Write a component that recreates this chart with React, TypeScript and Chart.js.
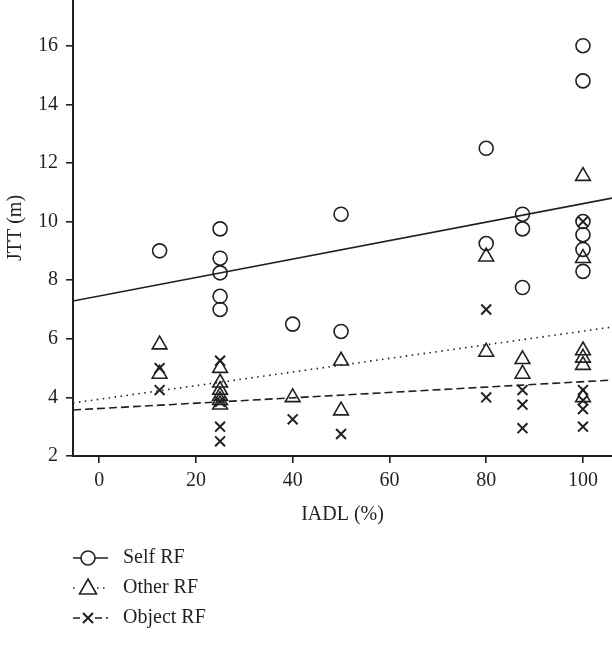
import React, { useEffect, useRef } from "react";
import { Chart, registerables } from "chart.js";

Chart.register(...registerables);

const INK = "#231f20";

const selfX = [12.5, 25, 25, 25, 25, 25, 40, 50, 50, 80, 80, 87.5, 87.5, 87.5, 100, 100, 100, 100, 100, 100];
const selfY = [9.0, 9.75, 8.75, 8.25, 7.45, 7.0, 6.5, 10.25, 6.25, 12.5, 9.25, 10.25, 9.75, 7.75, 16.0, 14.8, 10.0, 9.55, 9.05, 8.3];

const otherX = [12.5, 12.5, 25, 25, 25, 25, 25, 25, 40, 50, 50, 80, 80, 87.5, 87.5, 100, 100, 100, 100, 100, 100];
const otherY = [5.8, 4.8, 5.0, 4.5, 4.25, 4.05, 3.9, 3.75, 4.0, 5.25, 3.55, 8.8, 5.55, 5.3, 4.8, 11.55, 8.75, 5.6, 5.35, 5.1, 4.0];

const objectX = [12.5, 12.5, 25, 25, 25, 25, 40, 50, 80, 80, 87.5, 87.5, 87.5, 100, 100, 100, 100, 100];
const objectY = [5.0, 4.25, 5.25, 3.0, 2.5, 3.85, 3.25, 2.75, 7.0, 4.0, 4.25, 3.75, 2.95, 10.0, 4.25, 3.9, 3.6, 3.0];

// regression line end points (x at axis bounds)
const fitX = [-5.4, 106];
const selfFit = [7.29, 10.8];
const otherFit = [3.81, 6.4];
const objectFit = [3.57, 4.59];

const xTicks = [0, 20, 40, 60, 80, 100];
const yTicks = [2, 4, 6, 8, 10, 12, 14, 16];

const legendLabels = ["Self RF", "Other RF", "Object RF"];

const pts = (xs: number[], ys: number[]) => xs.map((x, i) => ({ x, y: ys[i] }));

const legendPlugin = {
  id: "customLegend",
  afterDraw(chart: any) {
    const ctx = chart.ctx;
    const rows = [
      { y: 558, dash: [] as number[], style: "circle" },
      { y: 588, dash: [1.5, 4.5], style: "triangle" },
      { y: 618, dash: [7, 4], style: "cross" },
    ];
    ctx.save();
    rows.forEach((r, i) => {
      ctx.strokeStyle = INK;
      ctx.lineWidth = 1.6;
      ctx.setLineDash(r.dash);
      ctx.beginPath();
      ctx.moveTo(73, r.y);
      ctx.lineTo(108, r.y);
      ctx.stroke();
      ctx.setLineDash([]);
      const cx = 88;
      ctx.beginPath();
      if (r.style === "circle") {
        ctx.fillStyle = "#fff";
        ctx.arc(cx, r.y, 7, 0, Math.PI * 2);
        ctx.fill();
        ctx.stroke();
      } else if (r.style === "triangle") {
        ctx.fillStyle = "#fff";
        ctx.fillRect(cx - 9, r.y - 9, 18, 18);
        ctx.moveTo(cx, r.y - 9);
        ctx.lineTo(cx + 8.5, r.y + 6);
        ctx.lineTo(cx - 8.5, r.y + 6);
        ctx.closePath();
        ctx.stroke();
      } else {
        ctx.fillStyle = "#fff";
        ctx.fillRect(cx - 7, r.y - 7, 14, 14);
        ctx.lineWidth = 2;
        ctx.moveTo(cx - 5, r.y - 5);
        ctx.lineTo(cx + 5, r.y + 5);
        ctx.moveTo(cx + 5, r.y - 5);
        ctx.lineTo(cx - 5, r.y + 5);
        ctx.stroke();
      }
      ctx.fillStyle = INK;
      ctx.font = "20px 'Liberation Serif', serif";
      ctx.textBaseline = "middle";
      ctx.textAlign = "left";
      ctx.fillText(legendLabels[i], 123, r.y);
    });
    ctx.restore();
  },
};

export default function App() {
  const ref = useRef<HTMLCanvasElement | null>(null);

  useEffect(() => {
    if (!ref.current) return;
    Chart.defaults.font.family = "'Liberation Serif', serif";
    Chart.defaults.color = INK;
    const pointCommon = {
      showLine: false,
      borderColor: INK,
      backgroundColor: "rgba(0,0,0,0)",
      borderWidth: 1.6,
    };
    const lineCommon = {
      type: "line" as const,
      borderColor: INK,
      borderWidth: 1.6,
      pointRadius: 0,
      fill: false,
    };
    const chart = new Chart(ref.current, {
      type: "scatter",
      data: {
        datasets: [
          { ...lineCommon, label: "selfFit", data: pts(fitX, selfFit) },
          { ...lineCommon, label: "otherFit", data: pts(fitX, otherFit), borderDash: [1.5, 4.5] },
          { ...lineCommon, label: "objectFit", data: pts(fitX, objectFit), borderDash: [8, 4] },
          { ...pointCommon, label: legendLabels[0], data: pts(selfX, selfY), pointStyle: "circle", pointRadius: 7 },
          { ...pointCommon, label: legendLabels[1], data: pts(otherX, otherY), pointStyle: "triangle", pointRadius: 8.5 },
          { ...pointCommon, label: legendLabels[2], data: pts(objectX, objectY), pointStyle: "crossRot", pointRadius: 7, borderWidth: 2 },
        ] as any,
      },
      options: {
        animation: false,
        responsive: false,
        maintainAspectRatio: false,
        events: [],
        layout: { autoPadding: false, padding: { left: 0, top: 0, right: 0, bottom: 122 } },
        plugins: { legend: { display: false }, tooltip: { enabled: false } },
        scales: {
          x: {
            type: "linear",
            min: fitX[0],
            max: fitX[1],
            afterBuildTicks: (s: any) => {
              s.ticks = xTicks.map((v) => ({ value: v }));
            },
            afterFit: (s: any) => {
              s.height = 71;
              s.paddingLeft = 0;
              s.paddingRight = 0;
            },
            ticks: { font: { size: 20 }, color: INK, padding: 6, maxRotation: 0 },
            grid: { display: true, drawOnChartArea: false, drawTicks: true, tickLength: 7, color: INK, lineWidth: 1.6 },
            border: { display: true, color: INK, width: 2 },
            title: { display: true, text: "IADL (%)", font: { size: 20 }, color: INK, padding: { top: 6, bottom: 0 } },
          },
          y: {
            type: "linear",
            min: 2,
            max: 17.56,
            afterBuildTicks: (s: any) => {
              s.ticks = yTicks.map((v) => ({ value: v }));
            },
            afterFit: (s: any) => {
              s.width = 73;
              s.paddingTop = 0;
              s.paddingBottom = 0;
            },
            ticks: { font: { size: 20 }, color: INK, padding: 8 },
            grid: { display: true, drawOnChartArea: false, drawTicks: true, tickLength: 7, color: INK, lineWidth: 1.6 },
            border: { display: true, color: INK, width: 2 },
            title: { display: true, text: "JTT (m)", font: { size: 20 }, color: INK, padding: { bottom: 2 } },
          },
        },
      } as any,
      plugins: [legendPlugin],
    });
    return () => chart.destroy();
  }, []);

  return (
    <div style={{ position: "fixed", left: 0, top: 0, width: 612, height: 649, background: "#fff" }}>
      <canvas ref={ref} width={612} height={649} style={{ width: 612, height: 649, display: "block" }} />
    </div>
  );
}
